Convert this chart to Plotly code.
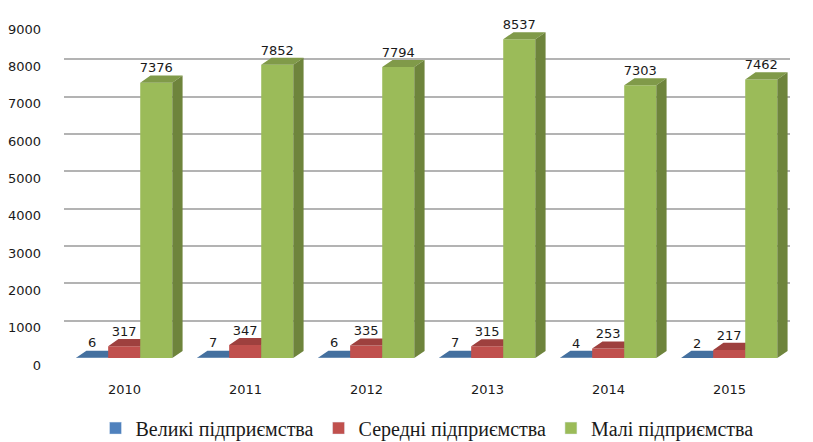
import plotly.graph_objects as go

# data
years = ['2010', '2011', '2012', '2013', '2014', '2015']
velyki = [6, 7, 6, 7, 4, 2]
seredni = [317, 347, 335, 315, 253, 217]
mali = [7376, 7852, 7794, 8537, 7303, 7462]
names = ['Великі підприємства', 'Середні підприємства', 'Малі підприємства']

# colours: front, top, side
colors = [('#4F81BD', '#44709F', '#385D86'),
          ('#C0504D', '#9E403E', '#8C3735'),
          ('#9BBB59', '#809A49', '#6E843C')]
offsets = [-0.40, -0.135, 0.13]
w = 0.265
dx = 0.085
dy = 190

fig = go.Figure()


def poly(pts_list):
    xs, ys = [], []
    for pts in pts_list:
        for px_, py_ in pts:
            xs.append(px_)
            ys.append(py_)
        xs.append(None)
        ys.append(None)
    return xs, ys


for k, vals in enumerate([velyki, seredni, mali]):
    front, top, side = [], [], []
    for i, v in enumerate(vals):
        x0 = i + offsets[k]
        front.append([(x0, 0), (x0 + w, 0), (x0 + w, v), (x0, v)])
        top.append([(x0, v), (x0 + w, v), (x0 + w + dx, v + dy), (x0 + dx, v + dy)])
        side.append([(x0 + w, 0), (x0 + w + dx, dy), (x0 + w + dx, v + dy), (x0 + w, v)])
    for faces, col in [(front, colors[k][0]), (top, colors[k][1]), (side, colors[k][2])]:
        xs, ys = poly(faces)
        fig.add_trace(go.Scatter(x=xs, y=ys, mode='lines', fill='toself',
                                 fillcolor=col, line=dict(width=0, color=col),
                                 hoverinfo='skip', showlegend=False))
    # value labels
    fig.add_trace(go.Scatter(x=[i + offsets[k] + w / 2 for i in range(len(vals))],
                             y=[v + dy for v in vals], mode='text',
                             text=[str(v) for v in vals], textposition='top center',
                             textfont=dict(family='DejaVu Sans', size=13, color='#1a1a1a'),
                             cliponaxis=False, hoverinfo='skip', showlegend=False))
    # legend entry
    fig.add_trace(go.Bar(x=[None], y=[None], name=names[k],
                         marker_color=colors[k][0], showlegend=True))

fig.update_layout(
    width=805, height=434,
    margin=dict(l=56, r=23, t=14, b=84, autoexpand=False),
    plot_bgcolor='white', paper_bgcolor='white',
    showlegend=True,
    legend=dict(orientation='h', x=0.5, xanchor='center', yref='container',
                y=0.032, yanchor='middle',
                font=dict(family='Liberation Serif', size=20, color='#1a1a1a'),
                itemwidth=30, traceorder='normal'),
    xaxis=dict(range=[-0.5, 5.5], tickmode='array', tickvals=list(range(6)),
               ticktext=years, showgrid=False, zeroline=False,
               ticklabelstandoff=22,
               tickfont=dict(family='DejaVu Sans', size=13, color='#1a1a1a')),
    yaxis=dict(range=[0, 9000], dtick=1000, showgrid=True, gridcolor='#B3B3B3',
               gridwidth=1.5, zeroline=False, ticklabelstandoff=22, ticklabelshift=7,
               tickfont=dict(family='DejaVu Sans', size=13, color='#1a1a1a')),
)

fig.write_html("out.html")
